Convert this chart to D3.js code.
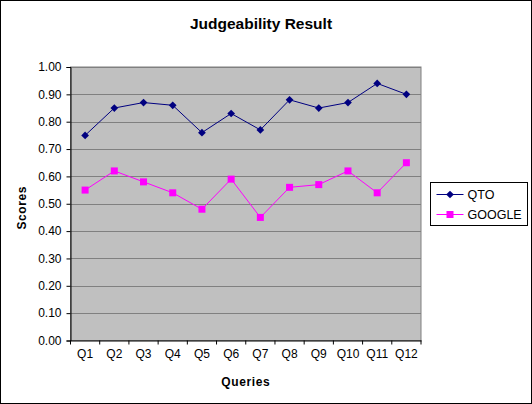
<html>
<head>
<script src="https://d3js.org/d3.v7.min.js"></script>
<style>
  body { margin: 0; font-family: "Liberation Sans", Arial, sans-serif; background: #fff; }
  text { font-family: "Liberation Sans", Arial, sans-serif; }
</style>
</head>
<body>
<div id="chart"></div>
<script type="text/javascript">
    var queries = ["Q1","Q2","Q3","Q4","Q5","Q6","Q7","Q8","Q9","Q10","Q11","Q12"];
    var qto = [0.75, 0.85, 0.87, 0.86, 0.76, 0.83, 0.77, 0.88, 0.85, 0.87, 0.94, 0.90];
    var google = [0.55, 0.62, 0.58, 0.54, 0.48, 0.59, 0.45, 0.56, 0.57, 0.62, 0.54, 0.65];
    var yTicks = [0, 0.1, 0.2, 0.3, 0.4, 0.5, 0.6, 0.7, 0.8, 0.9, 1.0];
    var seriesNames = ["QTO", "GOOGLE"];

    var width = 532, height = 404;
    var plotLeft = 70.5, plotRight = 421, plotTop = 67, plotBottom = 340.5;

    var svg = d3.select("#chart").append("svg")
        .attr("width", width)
        .attr("height", height);

    // outer frame
    svg.append("rect")
        .attr("x", 0.5).attr("y", 0.5)
        .attr("width", width - 1).attr("height", height - 1)
        .attr("fill", "#fff").attr("stroke", "#000").attr("stroke-width", 1);

    var x = d3.scaleBand().domain(queries).range([plotLeft, plotRight]);
    var y = d3.scaleLinear().domain([0, 1]).range([plotBottom, plotTop]);

    // plot area
    svg.append("rect")
        .attr("x", plotLeft).attr("y", plotTop)
        .attr("width", plotRight - plotLeft).attr("height", plotBottom - plotTop)
        .attr("fill", "#C0C0C0").attr("stroke", "#808080").attr("stroke-width", 1);

    // gridlines
    svg.selectAll(".grid").data(yTicks.slice(1)).enter().append("line")
        .attr("x1", plotLeft).attr("x2", plotRight)
        .attr("y1", function(d) { return Math.round(y(d)) + 0.5; })
        .attr("y2", function(d) { return Math.round(y(d)) + 0.5; })
        .attr("stroke", "#808080").attr("stroke-width", 1);

    // y axis
    var yAxis = svg.append("g")
        .attr("transform", "translate(" + plotLeft + ",0)")
        .call(d3.axisLeft(y).tickValues(yTicks).tickFormat(d3.format(".2f")).tickSize(4).tickPadding(5));
    yAxis.select(".domain").attr("stroke", "#000");
    yAxis.selectAll("text").attr("font-size", 12).attr("fill", "#000");

    // x axis, ticks sit between categories
    var xAxis = svg.append("g")
        .attr("transform", "translate(0," + plotBottom + ")")
        .call(d3.axisBottom(x).tickSize(0).tickPadding(9));
    xAxis.select(".domain").attr("stroke", "#000");
    xAxis.selectAll("text").attr("font-size", 12).attr("fill", "#000");
    xAxis.selectAll(".between").data(queries).enter().append("line")
        .attr("x1", function(d) { return x(d) + x.bandwidth(); })
        .attr("x2", function(d) { return x(d) + x.bandwidth(); })
        .attr("y1", 0).attr("y2", 4)
        .attr("stroke", "#000");
    xAxis.append("line")
        .attr("x1", plotLeft).attr("x2", plotLeft).attr("y1", 0).attr("y2", 4).attr("stroke", "#000");

    var line = d3.line()
        .x(function(d, i) { return x(queries[i]) + x.bandwidth() / 2; })
        .y(function(d) { return y(d); });

    // QTO
    svg.append("path").datum(qto)
        .attr("d", line).attr("fill", "none").attr("stroke", "#000080").attr("stroke-width", 1);
    svg.selectAll(".qto").data(qto).enter().append("path")
        .attr("d", d3.symbol().type(d3.symbolDiamond2).size(38))
        .attr("transform", function(d, i) { return "translate(" + (x(queries[i]) + x.bandwidth() / 2) + "," + y(d) + ")"; })
        .attr("fill", "#000080");

    // GOOGLE
    svg.append("path").datum(google)
        .attr("d", line).attr("fill", "none").attr("stroke", "#FF00FF").attr("stroke-width", 1);
    svg.selectAll(".goo").data(google).enter().append("rect")
        .attr("x", function(d, i) { return x(queries[i]) + x.bandwidth() / 2 - 3.5; })
        .attr("y", function(d) { return y(d) - 3.5; })
        .attr("width", 7).attr("height", 7)
        .attr("fill", "#FF00FF");

    // title and axis titles
    svg.append("text")
        .attr("x", 261).attr("y", 29)
        .attr("text-anchor", "middle")
        .attr("font-size", 15.5).attr("font-weight", "bold")
        .text("Judgeability Result");
    svg.append("text")
        .attr("transform", "translate(26," + ((plotTop + plotBottom) / 2 + 4) + ") rotate(-90)")
        .attr("text-anchor", "middle")
        .attr("font-size", 12).attr("font-weight", "bold").attr("letter-spacing", 0.6)
        .text("Scores");
    svg.append("text")
        .attr("x", (plotLeft + plotRight) / 2).attr("y", 386)
        .attr("text-anchor", "middle")
        .attr("font-size", 12).attr("font-weight", "bold").attr("letter-spacing", 0.6)
        .text("Queries");

    // legend
    var lg = svg.append("g").attr("transform", "translate(430.5,182.5)");
    lg.append("rect").attr("width", 97).attr("height", 43)
        .attr("fill", "#fff").attr("stroke", "#000");
    var colors = ["#000080", "#FF00FF"];
    seriesNames.forEach(function(name, i) {
        var cy = 12 + i * 20;
        lg.append("line").attr("x1", 6).attr("x2", 33).attr("y1", cy).attr("y2", cy)
            .attr("stroke", colors[i]);
        if (i === 0) {
            lg.append("path").attr("d", d3.symbol().type(d3.symbolDiamond2).size(38))
                .attr("transform", "translate(19.5," + cy + ")").attr("fill", colors[i]);
        } else {
            lg.append("rect").attr("x", 16).attr("y", cy - 3.5).attr("width", 7).attr("height", 7)
                .attr("fill", colors[i]);
        }
        lg.append("text").attr("x", 37).attr("y", cy + 4.5)
            .attr("font-size", 12.5).text(name);
    });
</script>
</body>
</html>
